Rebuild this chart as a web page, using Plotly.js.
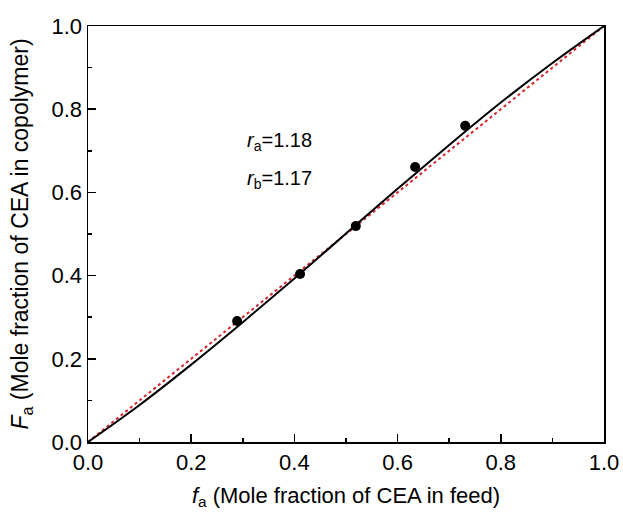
<!DOCTYPE html>
<html>
<head>
<meta charset="utf-8">
<script src="https://cdn.plot.ly/plotly-3.0.1.min.js"></script>
<style>html,body{margin:0;padding:0;background:#fff;}#chart{width:623px;height:515px;}</style>
</head>
<body>
<div id="chart"></div>
<script>
// Experimental points
var expF = [0.289, 0.411, 0.519, 0.634, 0.731];
var expFa = [0.291, 0.404, 0.519, 0.661, 0.760];
// Fitted curve
var fitF = [0.0, 0.1, 0.2, 0.3, 0.4, 0.5, 0.6, 0.7, 0.8, 0.9, 1.0];
var fitFa = [0.0, 0.089, 0.186, 0.288, 0.393, 0.501, 0.609, 0.714, 0.816, 0.911, 1.0];
// Ideal (azeotropic) line
var idealF = [0.0, 1.0];
var idealFa = [0.0, 1.0];
var ra = "1.18", rb = "1.17";

var font = "Liberation Sans, Arial, sans-serif";
var traces = [
  {x: idealF, y: idealFa, mode: "lines", line: {color: "#d8232a", width: 2, dash: "3px,3px"}, hoverinfo: "skip"},
  {x: fitF, y: fitFa, mode: "lines", line: {color: "#000", width: 2, shape: "spline"}},
  {x: expF, y: expFa, mode: "markers", marker: {color: "#000", size: 10}}
];
var axisCommon = {
  range: [0, 1], dtick: 0.2, tick0: 0, tickformat: ".1f",
  ticks: "inside", ticklen: 8, tickwidth: 1.5, tickcolor: "#000",
  minor: {dtick: 0.1, ticks: "inside", ticklen: 4, tickwidth: 1.5, tickcolor: "#000"},
  showline: true, linecolor: "#000", linewidth: 1.5, mirror: true,
  showgrid: false, zeroline: false,
  tickfont: {family: font, size: 22, color: "#000"}
};
var layout = {
  width: 623, height: 515,
  margin: {l: 88, r: 19, t: 26, b: 73},
  showlegend: false,
  paper_bgcolor: "#fff", plot_bgcolor: "#fff",
  xaxis: Object.assign({}, axisCommon, {
    title: {text: "<i>f</i><sub>a</sub> (Mole fraction of CEA in feed)", font: {family: font, size: 22, color: "#000"}, standoff: 13}
  }),
  yaxis: Object.assign({}, axisCommon, {
    title: {text: "<i>F</i><sub>a</sub> (Mole fraction of CEA in copolymer)", font: {family: font, size: 23, color: "#000"}, standoff: 16}
  }),
  annotations: [
    {x: 0.305, y: 0.722, xref: "x", yref: "y", xanchor: "left", showarrow: false,
     text: "<i>r</i><sub>a</sub>=" + ra, font: {family: font, size: 20, color: "#000"}},
    {x: 0.305, y: 0.632, xref: "x", yref: "y", xanchor: "left", showarrow: false,
     text: "<i>r</i><sub>b</sub>=" + rb, font: {family: font, size: 20, color: "#000"}}
  ]
};
Plotly.newPlot("chart", traces, layout, {displayModeBar: false, staticPlot: true});
</script>
</body>
</html>
